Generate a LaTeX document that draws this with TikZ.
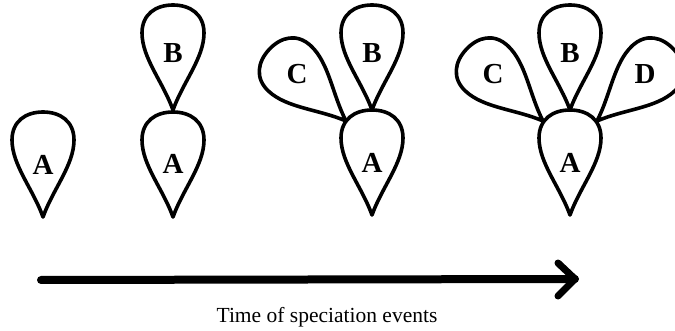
\documentclass[tikz,border=0pt]{standalone}
\usepackage{fontspec}
\setmainfont{Liberation Serif}
\begin{document}
\begin{tikzpicture}[x=1pt,y=-1pt,
  leafline/.style={line width=3.6pt,line join=round},
  lab/.style={font=\fontsize{29}{29}\selectfont\bfseries,inner sep=0pt},
  leaf/.pic={\draw[leafline] (0,0) .. controls (10,-28) and (31,-52) .. (31,-77)
      .. controls (31,-96) and (17,-105) .. (0,-105)
      .. controls (-17,-105) and (-31,-96) .. (-31,-77)
      .. controls (-31,-52) and (-10,-28) .. (0,0) -- cycle;}]
\useasboundingbox (0,0) rectangle (675,331);
% panel 1
\pic at (43,217) {leaf};
\node[lab] (a1) at (43,165) {A};
% panel 2
\pic at (173,217) {leaf};
\pic at (173,110) {leaf};
\node[lab] (a2) at (173,164) {A};
\node[lab] (b2) at (173,53) {B};
% panel 3
\pic at (372,215) {leaf};
\pic at (372,110) {leaf};
\pic[rotate=47] at (346,121) {leaf};
\node[lab] (a3) at (372,163) {A};
\node[lab] (b3) at (372,53) {B};
\node[lab] (c3) at (297,74) {C};
% panel 4
\pic at (570,215) {leaf};
\pic at (570,110) {leaf};
\pic[rotate=47] at (543,121) {leaf};
\pic[rotate=-47] at (597,121) {leaf};
\node[lab] (a4) at (570,163) {A};
\node[lab] (b4) at (570,53) {B};
\node[lab] (c4) at (493,74) {C};
\node[lab] (d4) at (645,74) {D};
% time arrow
\coordinate (t0) at (41,280);
\coordinate (t1) at (575,279);
\draw[line width=8pt,line cap=round,line join=round] (t0) -- (t1);
\draw[line width=7pt,line cap=round,line join=round] ([shift={(-17,-16)}]t1) -- (t1) -- ([shift={(-17,17)}]t1);
\node[font=\fontsize{21.5}{21.5}\selectfont,anchor=base] (cap) at (327,323) {Time of speciation events};
\end{tikzpicture}
\end{document}
